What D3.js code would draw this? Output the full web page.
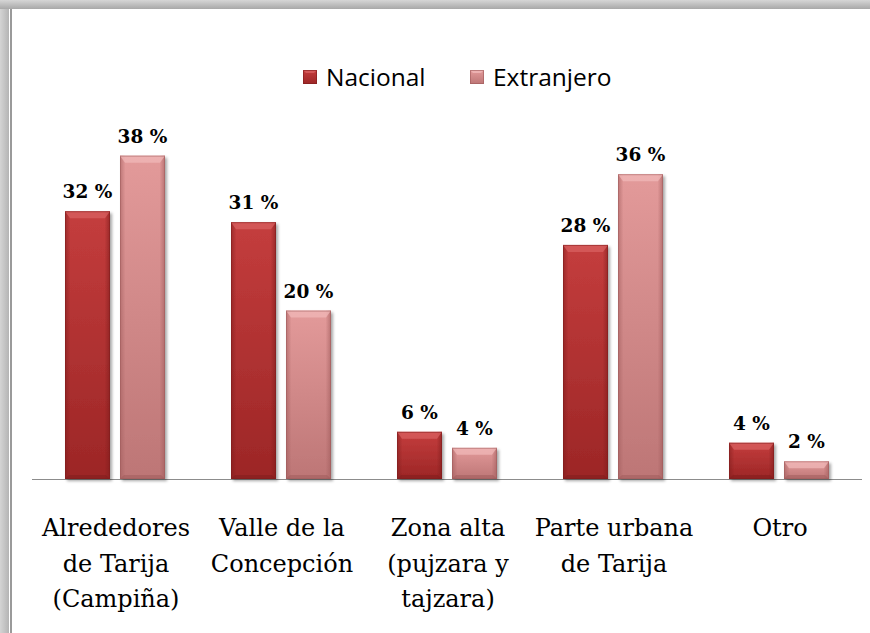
<!DOCTYPE html>
<html>
<head>
<meta charset="utf-8">
<script src="https://cdn.jsdelivr.net/npm/d3@7"></script>
<style>
html,body{margin:0;padding:0;background:#fff;}
svg{display:block;}
</style>
</head>
<body>
<svg id="chart" width="870" height="633"></svg>
<script>
const categories = [
  ["Alrededores", "de Tarija", "(Campiña)"],
  ["Valle de la", "Concepción"],
  ["Zona alta", "(pujzara y", "tajzara)"],
  ["Parte urbana", "de Tarija"],
  ["Otro"]
];
const seriesNames = ["Nacional", "Extranjero"];
const nacional   = [31.8, 30.5, 5.6, 27.8, 4.3];
const extranjero = [38.4, 20.0, 3.7, 36.2, 2.1];
const nacionalLabels   = ["32 %", "31 %", "6 %", "28 %", "4 %"];
const extranjeroLabels = ["38 %", "20 %", "4 %", "36 %", "2 %"];

const svg = d3.select("#chart");
const defs = svg.append("defs");

// frame shading
const gTop = defs.append("linearGradient").attr("id","gTop").attr("x1",0).attr("y1",0).attr("x2",0).attr("y2",1);
gTop.append("stop").attr("offset","0%").attr("stop-color","#d6d6d6");
gTop.append("stop").attr("offset","100%").attr("stop-color","#a8a8a8");
const gLeft = defs.append("linearGradient").attr("id","gLeft").attr("x1",0).attr("y1",0).attr("x2",1).attr("y2",0);
gLeft.append("stop").attr("offset","0%").attr("stop-color","#d4d4d4");
gLeft.append("stop").attr("offset","100%").attr("stop-color","#b4b4b4");

svg.append("rect").attr("x",0).attr("y",0).attr("width",9).attr("height",633).attr("fill","url(#gLeft)");
svg.append("rect").attr("x",0).attr("y",0).attr("width",870).attr("height",9).attr("fill","url(#gTop)");
svg.append("rect").attr("x",10).attr("y",9).attr("width",2).attr("height",624).attr("fill","#9a9a9a");

// bar gradients
const colors = [
  {top:"#c43d3d", bot:"#9c2626", edge:"#7e1c1c", light:"#d86060"},
  {top:"#e39a9a", bot:"#bd7676", edge:"#9e5a5a", light:"#f0b8b8"}
];
colors.forEach((c,i)=>{
  const g = defs.append("linearGradient").attr("id","bar"+i).attr("x1",0).attr("y1",0).attr("x2",0).attr("y2",1);
  g.append("stop").attr("offset","0%").attr("stop-color",c.top);
  g.append("stop").attr("offset","100%").attr("stop-color",c.bot);
  const s = defs.append("linearGradient").attr("id","side"+i).attr("x1",0).attr("y1",0).attr("x2",1).attr("y2",0);
  s.append("stop").attr("offset","0%").attr("stop-color",c.edge).attr("stop-opacity",0.55);
  s.append("stop").attr("offset","12%").attr("stop-color",c.edge).attr("stop-opacity",0);
  s.append("stop").attr("offset","88%").attr("stop-color",c.edge).attr("stop-opacity",0);
  s.append("stop").attr("offset","100%").attr("stop-color",c.edge).attr("stop-opacity",0.6);
});
const flt = defs.append("filter").attr("id","shadow").attr("x","-20%").attr("y","-20%").attr("width","150%").attr("height","150%");
flt.append("feDropShadow").attr("dx",2).attr("dy",2).attr("stdDeviation",1.5).attr("flood-color","#000").attr("flood-opacity",0.35);

const x0 = d3.scaleBand().domain(d3.range(categories.length)).range([32, 862]).paddingInner(0).paddingOuter(0);
const barW = 45, gap = 10;
const y = d3.scaleLinear().domain([0, 40]).range([479, 142.2]);

// baseline
svg.append("line").attr("x1",32).attr("x2",862).attr("y1",y(0)+0.5).attr("y2",y(0)+0.5)
  .attr("stroke","#8c8c8c").attr("stroke-width",1.2);

const series = [nacional, extranjero];
const labels = [nacionalLabels, extranjeroLabels];

series.forEach((vals, si)=>{
  const g = svg.append("g");
  vals.forEach((v, ci)=>{
    const cx = x0(ci) + x0.bandwidth()/2;
    const bx = si === 0 ? cx - gap/2 - barW : cx + gap/2;
    const by = y(v), bh = y(0) - y(v);
    const bar = g.append("g");
    bar.append("rect").attr("x",bx).attr("y",by).attr("width",barW).attr("height",bh)
      .attr("fill","url(#bar"+si+")").attr("filter","url(#shadow)");
    bar.append("rect").attr("x",bx).attr("y",by).attr("width",barW).attr("height",bh)
      .attr("fill","url(#side"+si+")");
    const bev = Math.min(7, bh/2);
    bar.append("path")
      .attr("d",`M${bx},${by} L${bx+barW},${by} L${bx+barW-5},${by+bev} L${bx+5},${by+bev} Z`)
      .attr("fill",colors[si].light).attr("opacity",0.75);
    bar.append("path")
      .attr("d",`M${bx},${by+bh} L${bx+barW},${by+bh} L${bx+barW-4},${by+bh-4} L${bx+4},${by+bh-4} Z`)
      .attr("fill",colors[si].edge).attr("opacity",0.5);
    bar.append("rect").attr("x",bx+0.5).attr("y",by+0.5).attr("width",barW-1).attr("height",bh-1)
      .attr("fill","none").attr("stroke",colors[si].edge).attr("stroke-opacity",0.5).attr("stroke-width",1);
    svg.append("text").attr("x",bx+barW/2).attr("y",by-13)
      .attr("text-anchor","middle")
      .attr("font-family","'DejaVu Serif', serif")
      .attr("font-weight","bold").attr("font-size",18.5).attr("fill","#000")
      .text(labels[si][ci]);
  });
});

// category labels
categories.forEach((lines, ci)=>{
  const cx = x0(ci) + x0.bandwidth()/2 + 1;
  const t = svg.append("text").attr("text-anchor","middle")
    .attr("font-family","'DejaVu Serif', serif")
    .attr("font-size",24).attr("fill","#000");
  lines.forEach((ln, li)=>{
    t.append("tspan").attr("x",cx).attr("y",536 + li*35.5).text(ln);
  });
});

// legend
const legend = [{x:303, name:seriesNames[0]},{x:470, name:seriesNames[1]}];
legend.forEach((l, i)=>{
  svg.append("rect").attr("x",l.x).attr("y",70).attr("width",14).attr("height",14)
    .attr("fill","url(#bar"+i+")");
  svg.append("path").attr("d",`M${l.x},70 L${l.x+14},70 L${l.x+11},73 L${l.x+3},73 Z`)
    .attr("fill",colors[i].light).attr("opacity",0.8);
  svg.append("rect").attr("x",l.x+0.5).attr("y",70.5).attr("width",13).attr("height",13)
    .attr("fill","none").attr("stroke",colors[i].edge).attr("stroke-opacity",0.6);
  svg.append("text").attr("x",l.x+23).attr("y",86)
    .attr("font-family","'Open Sans', 'Liberation Sans', sans-serif")
    .attr("font-size",24.5).attr("fill","#000").text(l.name);
});
</script>
</body>
</html>
